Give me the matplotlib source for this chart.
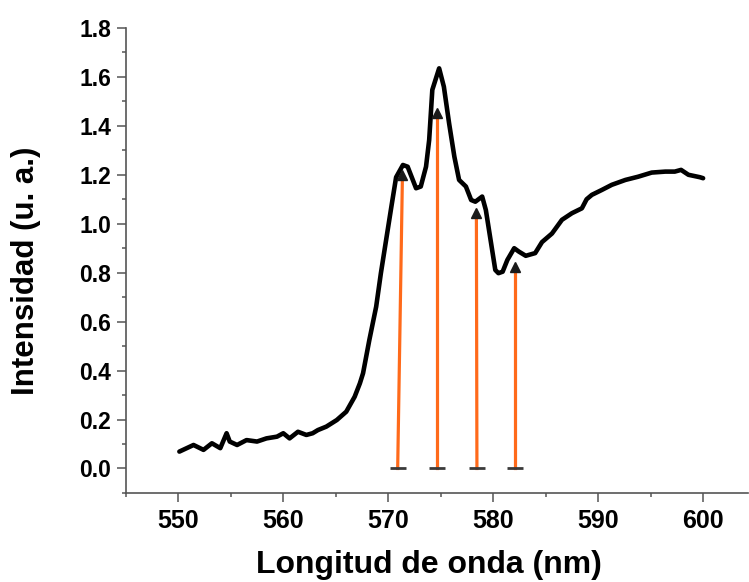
import numpy as np
import matplotlib.pyplot as plt
from matplotlib.ticker import MultipleLocator

# espectro
wavelength = [550.1, 551.45, 552.4, 553.2, 554.0, 554.6, 554.9, 555.6, 556.5, 557.5,
              558.4, 559.4, 560.0, 560.6, 561.4, 562.2, 562.8, 563.3, 564.1, 565.1,
              566.0, 566.8, 567.3, 567.6, 568.2, 568.85, 569.3, 569.8, 570.3, 570.75,
              571.4, 571.85, 572.65, 573.1, 573.6, 573.9, 574.2, 574.85, 575.3, 575.8,
              576.3, 576.75, 577.4, 577.9, 578.3, 578.95, 579.3, 579.8, 580.2, 580.5,
              580.9, 581.35, 582.0, 582.45, 583.1, 584.0, 584.65, 585.6, 586.55, 587.5,
              588.45, 588.9, 589.4, 590.35, 591.3, 592.6, 593.8, 595.1, 596.4, 597.3,
              597.9, 598.6, 599.7, 600.0]
intensity = [0.069, 0.096, 0.076, 0.103, 0.083, 0.144, 0.110, 0.096, 0.116, 0.110,
             0.123, 0.130, 0.144, 0.123, 0.150, 0.137, 0.144, 0.157, 0.171, 0.198,
             0.232, 0.293, 0.348, 0.389, 0.525, 0.661, 0.798, 0.934, 1.070, 1.190,
             1.240, 1.233, 1.145, 1.152, 1.233, 1.342, 1.547, 1.635, 1.560, 1.410,
             1.274, 1.179, 1.152, 1.097, 1.090, 1.111, 1.056, 0.920, 0.811, 0.798,
             0.804, 0.852, 0.900, 0.886, 0.869, 0.880, 0.925, 0.960, 1.016, 1.043,
             1.063, 1.100, 1.118, 1.138, 1.159, 1.179, 1.192, 1.209, 1.213, 1.213,
             1.220, 1.200, 1.190, 1.186]

# flechas de las transiciones
arrow_base_x = [570.9, 574.6, 578.45, 582.07]
arrow_tip_x = [571.35, 574.6, 578.4, 582.07]
arrow_tip_y = [1.22, 1.473, 1.065, 0.844]

plt.rcParams['font.family'] = ['Liberation Sans', 'DejaVu Sans']

fig = plt.figure(figsize=(7.49, 5.82), dpi=100)
ax = fig.add_axes([0.168, 0.153, 0.831, 0.799])

ax.plot(wavelength, intensity, color='black', lw=3.3, solid_joinstyle='round',
        solid_capstyle='round', zorder=3)

for xb, xt, yt in zip(arrow_base_x, arrow_tip_x, arrow_tip_y):
    ax.plot([xb, xt], [0.0, yt - 0.03], color='#ff6a1a', lw=2.3, zorder=2)
    ax.plot(xt, yt - 0.022, marker='^', color='#1a1a1a', markersize=6.5, zorder=4)
    ax.plot(xb, 0.0, marker='_', color='#3a3a3a', markersize=12, markeredgewidth=2, zorder=4)

ax.set_xlim(545, 604.3)
ax.set_ylim(-0.1, 1.8)
ax.xaxis.set_major_locator(MultipleLocator(10))
ax.xaxis.set_minor_locator(MultipleLocator(5))
ax.yaxis.set_minor_locator(MultipleLocator(0.1))
ax.set_yticks(np.arange(0, 1.81, 0.2))
ax.set_yticklabels([f'{v:.1f}' for v in np.arange(0, 1.81, 0.2)])

for s in ['top', 'right']:
    ax.spines[s].set_visible(False)
for s in ['left', 'bottom']:
    ax.spines[s].set_color('#555555')
    ax.spines[s].set_linewidth(1.2)

ax.tick_params(which='major', length=6.5, width=1.1, color='#555555')
ax.tick_params(which='minor', length=3.2, width=1.1, color='#555555')
ax.tick_params(axis='x', which='major', labelsize=18, pad=5)
ax.tick_params(axis='y', which='major', labelsize=16.5, pad=4)
for lab in ax.get_xticklabels() + ax.get_yticklabels():
    lab.set_fontweight('bold')

ax.set_xlabel('Longitud de onda (nm)', fontsize=23, fontweight='bold')
ax.set_ylabel('Intensidad (u. a.)', fontsize=22.5, fontweight='bold')
ax.xaxis.set_label_coords(0.487, -0.122)
ax.yaxis.set_label_coords(-0.137, 0.477)

fig.savefig('out.png', dpi=100)
